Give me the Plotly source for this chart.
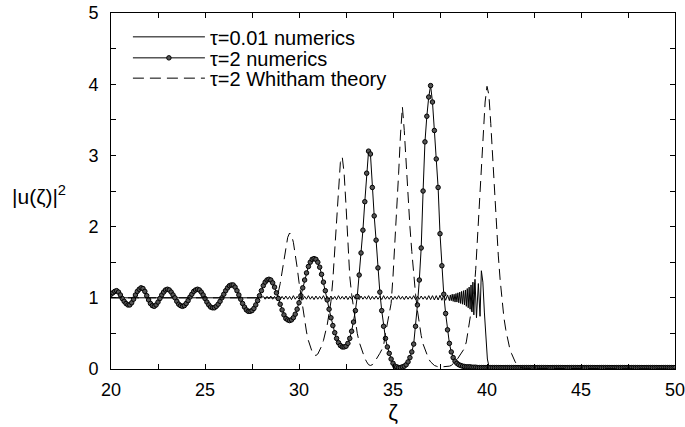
import plotly.graph_objects as go

# ---- tau = 2 numerics (sampled every 0.1 from 20.0 to 50.0) ----
tau2_x_start = 20.0
tau2_x_step = 0.1
tau2_y = [
    1.05, 1.07, 1.09, 1.10, 1.08, 1.04, 0.99, 0.95, 0.92, 0.90,
    0.90, 0.93, 0.98, 1.04, 1.09, 1.12, 1.14, 1.13, 1.09, 1.03,
    0.97, 0.92, 0.89, 0.88, 0.90, 0.94, 0.99, 1.04, 1.08, 1.11,
    1.12, 1.11, 1.08, 1.04, 1.00, 0.95, 0.91, 0.89, 0.88, 0.89,
    0.92, 0.96, 1.01, 1.05, 1.09, 1.11, 1.12, 1.11, 1.08, 1.04,
    0.99, 0.94, 0.90, 0.87, 0.86, 0.86, 0.88, 0.91, 0.95, 1.00,
    1.05, 1.10, 1.14, 1.17, 1.18, 1.18, 1.15, 1.10, 1.04, 0.98,
    0.92, 0.87, 0.83, 0.81, 0.81, 0.82, 0.85, 0.90, 0.96, 1.03,
    1.10, 1.17, 1.22, 1.25, 1.26, 1.25, 1.21, 1.15, 1.07, 0.99,
    0.91, 0.83, 0.76, 0.71, 0.69, 0.68, 0.69, 0.72, 0.77, 0.84,
    0.93, 1.03, 1.14, 1.25, 1.35, 1.44, 1.50, 1.54, 1.55, 1.54,
    1.50, 1.43, 1.33, 1.22, 1.10, 0.97, 0.84, 0.72, 0.61, 0.51,
    0.43, 0.37, 0.33, 0.31, 0.31, 0.32, 0.36, 0.43, 0.53, 0.66,
    0.82, 1.02, 1.32, 1.63, 1.95, 2.35, 2.75, 3.06, 3.02, 2.55,
    2.15, 1.81, 1.42, 1.08, 0.82, 0.60, 0.43, 0.31, 0.22, 0.14,
    0.08, 0.04, 0.03, 0.02, 0.02, 0.03, 0.04, 0.06, 0.10, 0.16,
    0.24, 0.35, 0.60, 0.90, 1.25, 1.70, 2.50, 3.19, 3.55, 3.82,
    3.98, 3.75, 3.35, 2.95, 2.55, 1.90, 1.45, 1.05, 0.78, 0.55,
    0.36, 0.24, 0.16, 0.11, 0.08, 0.06, 0.05, 0.04, 0.035, 0.03,
    0.03, 0.03, 0.025, 0.025, 0.025, 0.02, 0.02, 0.02, 0.02, 0.02,
    0.02, 0.02, 0.02, 0.02, 0.02, 0.02, 0.02, 0.02, 0.02, 0.02,
    0.02, 0.02, 0.02, 0.02, 0.02, 0.02, 0.02, 0.02, 0.02, 0.02,
    0.02, 0.02, 0.02, 0.02, 0.02, 0.02, 0.02, 0.02, 0.02, 0.02,
    0.02, 0.02, 0.02, 0.02, 0.02, 0.02, 0.02, 0.02, 0.02, 0.02,
    0.02, 0.02, 0.02, 0.02, 0.02, 0.02, 0.02, 0.02, 0.02, 0.02,
    0.02, 0.02, 0.02, 0.02, 0.02, 0.02, 0.02, 0.02, 0.02, 0.02,
    0.02, 0.02, 0.02, 0.02, 0.02, 0.02, 0.02, 0.02, 0.02, 0.02,
    0.02, 0.02, 0.02, 0.02, 0.02, 0.02, 0.02, 0.02, 0.02, 0.02,
    0.02, 0.02, 0.02, 0.02, 0.02, 0.02, 0.02, 0.02, 0.02, 0.02,
    0.02, 0.02, 0.02, 0.02, 0.02, 0.02, 0.02, 0.02, 0.02, 0.02,
    0.02,
]
tau2_x = [round(tau2_x_start + i * tau2_x_step, 2) for i in range(len(tau2_y))]

# ---- tau = 0.01 numerics ----
# flat plateau, then a fine ripple sampled every 0.1 (28.0 .. 37.9)
tau001_plateau_x = [20.0]
tau001_plateau_y = [1.0]
tau001_ripple_x_start = 28.0
tau001_ripple_y = [
    1.00, 1.02, 0.98, 1.02, 0.985, 1.025, 0.98, 1.02, 0.98, 1.03,
    0.975, 1.02, 0.98, 1.025, 0.98, 1.02, 0.975, 1.03, 0.98, 1.02,
    0.98, 1.025, 0.975, 1.02, 0.98, 1.03, 0.98, 1.02, 0.975, 1.025,
    0.98, 1.02, 0.98, 1.03, 0.975, 1.02, 0.98, 1.025, 0.98, 1.02,
    0.975, 1.03, 0.98, 1.02, 0.98, 1.025, 0.975, 1.02, 0.98, 1.03,
    0.98, 1.02, 0.975, 1.025, 0.98, 1.02, 0.98, 1.03, 0.975, 1.02,
    0.98, 1.025, 0.98, 1.02, 0.975, 1.03, 0.98, 1.02, 0.98, 1.025,
    0.975, 1.02, 0.98, 1.03, 0.98, 1.02, 0.975, 1.025, 0.98, 1.02,
    0.98, 1.03, 0.975, 1.02, 0.98, 1.025, 0.98, 1.02, 0.975, 1.03,
    0.975, 1.03, 0.97, 1.03, 0.97, 1.035, 0.965, 1.035, 0.965, 1.04,
]
tau001_ripple_x = [round(tau001_ripple_x_start + 0.1 * i, 2) for i in range(len(tau001_ripple_y))]
# dispersive-shock front
tau001_front_x = [
    38.0, 38.05, 38.1, 38.15, 38.2, 38.25, 38.3, 38.35, 38.4, 38.45,
    38.5, 38.55, 38.6, 38.65, 38.7, 38.75, 38.8, 38.85, 38.9, 38.95,
    39.0, 39.05, 39.1, 39.15, 39.2, 39.25, 39.3, 39.36, 39.44, 39.54,
    39.63, 39.7, 39.78, 39.86, 39.94, 40.02, 40.1, 40.2, 40.4, 50.0,
]
tau001_front_y = [
    0.96, 1.04, 0.96, 1.05, 0.95, 1.05, 0.94, 1.06, 0.94, 1.07,
    0.93, 1.08, 0.92, 1.09, 0.91, 1.10, 0.90, 1.11, 0.88, 1.13,
    0.86, 1.15, 0.84, 1.18, 0.80, 1.22, 0.76, 1.26, 0.72, 1.20,
    0.74, 1.38, 1.22, 0.80, 0.38, 0.14, 0.04, 0.01, 0.0, 0.0,
]
tau001_x = tau001_plateau_x + tau001_ripple_x + tau001_front_x
tau001_y = tau001_plateau_y + tau001_ripple_y + tau001_front_y

# ---- tau = 2 Whitham theory ----
whitham_x = [
    20.0, 28.7, 28.8, 28.9, 29.0, 29.1, 29.2, 29.3, 29.4, 29.5,
    29.6, 29.7, 29.8, 29.9, 30.0, 30.1, 30.2, 30.3, 30.4, 30.5,
    30.6, 30.7, 30.8, 30.9, 31.0, 31.1, 31.2, 31.3, 31.4, 31.5,
    31.6, 31.7, 31.8, 31.9, 32.0, 32.1, 32.2, 32.3, 32.4, 32.5,
    32.6, 32.7, 32.8, 32.9, 33.0, 33.1, 33.2, 33.3, 33.4, 33.5,
    33.6, 33.7, 33.8, 33.9, 34.0, 34.1, 34.2, 34.3, 34.4, 34.5,
    34.6, 34.7, 34.8, 34.9, 35.0, 35.1, 35.2, 35.3, 35.4, 35.5,
    35.6, 35.7, 35.8, 35.9, 36.0, 36.1, 36.2, 36.3, 36.4, 36.5,
    36.6, 36.7, 36.8, 36.9, 37.0, 37.1, 37.2, 37.3, 37.4, 37.6,
    37.8, 38.0, 38.1, 38.2, 38.3, 38.4, 38.5, 38.6, 38.7, 38.8,
    38.9, 39.0, 39.1, 39.2, 39.3, 39.4, 39.5, 39.6, 39.7, 39.8,
    39.9, 40.0, 40.1, 40.2, 40.3, 40.4, 40.5, 40.6, 40.7, 40.8,
    40.9, 41.0, 41.1, 41.2, 41.3, 41.4, 41.5, 41.6, 41.7, 41.8,
    42.0, 50.0,
]
whitham_y = [
    1.0, 1.0, 1.02, 1.08, 1.20, 1.37, 1.55, 1.72, 1.85, 1.91,
    1.88, 1.78, 1.62, 1.43, 1.22, 1.03, 0.86, 0.68, 0.52, 0.40,
    0.30, 0.24, 0.20, 0.19, 0.21, 0.26, 0.32, 0.40, 0.50, 0.62,
    0.78, 0.95, 1.25, 1.65, 2.10, 2.55, 2.90, 2.98, 2.75, 2.30,
    1.75, 1.30, 1.05, 0.85, 0.65, 0.50, 0.38, 0.30, 0.22, 0.15,
    0.10, 0.06, 0.05, 0.06, 0.09, 0.13, 0.18, 0.22, 0.27, 0.33,
    0.50, 0.65, 0.75, 0.92, 1.30, 1.75, 2.20, 2.75, 3.30, 3.68,
    3.35, 2.85, 2.40, 2.00, 1.65, 1.30, 1.05, 0.82, 0.62, 0.47,
    0.35, 0.27, 0.20, 0.14, 0.10, 0.07, 0.05, 0.04, 0.03, 0.03,
    0.03, 0.04, 0.05, 0.07, 0.10, 0.13, 0.17, 0.21, 0.25, 0.29,
    0.38, 0.55, 0.72, 0.88, 1.05, 1.40, 1.85, 2.30, 2.80, 3.30,
    3.75, 3.97, 3.85, 3.45, 2.95, 2.45, 2.00, 1.60, 1.25, 0.95,
    0.72, 0.55, 0.40, 0.30, 0.22, 0.15, 0.10, 0.06, 0.04, 0.02,
    0.01, 0.0,
]

x_ticks = [20, 25, 30, 35, 40, 45, 50]
y_ticks = [0, 1, 2, 3, 4, 5]

FONT = "Liberation Sans, Arial, sans-serif"

fig = go.Figure()
fig.add_trace(go.Scatter(
    x=tau001_x, y=tau001_y, mode="lines", name="τ=0.01 numerics",
    line=dict(color="black", width=1), legend="legend",
))
fig.add_trace(go.Scatter(
    x=tau2_x, y=tau2_y, mode="lines+markers", name="τ=2 numerics",
    line=dict(color="black", width=1),
    marker=dict(symbol="circle", size=4.5, color="#555555",
                line=dict(color="#000000", width=1)),
    legend="legend2",
))
fig.add_trace(go.Scatter(
    x=whitham_x, y=whitham_y, mode="lines", name="τ=2 Whitham theory",
    line=dict(color="black", width=1, dash="11px,6px"), legend="legend3",
))

axis_common = dict(
    showline=True, linecolor="black", linewidth=1, mirror="allticks",
    ticks="inside", ticklen=5, tickcolor="black", tickwidth=1,
    showgrid=False, zeroline=False, automargin=False,
    ticklabeloverflow="allow",
    tickfont=dict(family=FONT, size=18, color="black"),
)

legend_common = dict(
    x=0.030, xanchor="left", yanchor="middle",
    bgcolor="rgba(255,255,255,0)", borderwidth=0,
    font=dict(family=FONT, size=20, color="black"),
    itemwidth=72,
)

fig.update_layout(
    width=685, height=427,
    margin=dict(l=111, r=10, t=13, b=58, autoexpand=False),
    paper_bgcolor="white", plot_bgcolor="white",
    font=dict(family=FONT, color="black"),
    showlegend=True,
    legend=dict(y=0.933, **legend_common),
    legend2=dict(y=0.874, **legend_common),
    legend3=dict(y=0.817, **legend_common),
    xaxis=dict(
        range=[20, 50], tickvals=x_ticks,
        minor=dict(dtick=2.5, ticks="inside", ticklen=5, tickcolor="black"),
        title=dict(text="ζ", font=dict(family=FONT, size=22), standoff=6),
        ticklabelstandoff=4,
        **axis_common,
    ),
    yaxis=dict(
        range=[0, 5], tickvals=y_ticks,
        minor=dict(dtick=0.5, ticks="inside", ticklen=5, tickcolor="black"),
        ticklabelstandoff=8,
        **axis_common,
    ),
    annotations=[dict(
        text="|u(ζ)|<sup>2</sup>", xref="paper", yref="paper",
        x=-0.128, y=0.49, xanchor="center", yanchor="middle",
        showarrow=False, font=dict(family=FONT, size=21, color="black"),
    )],
)

fig.write_html("out.html")
